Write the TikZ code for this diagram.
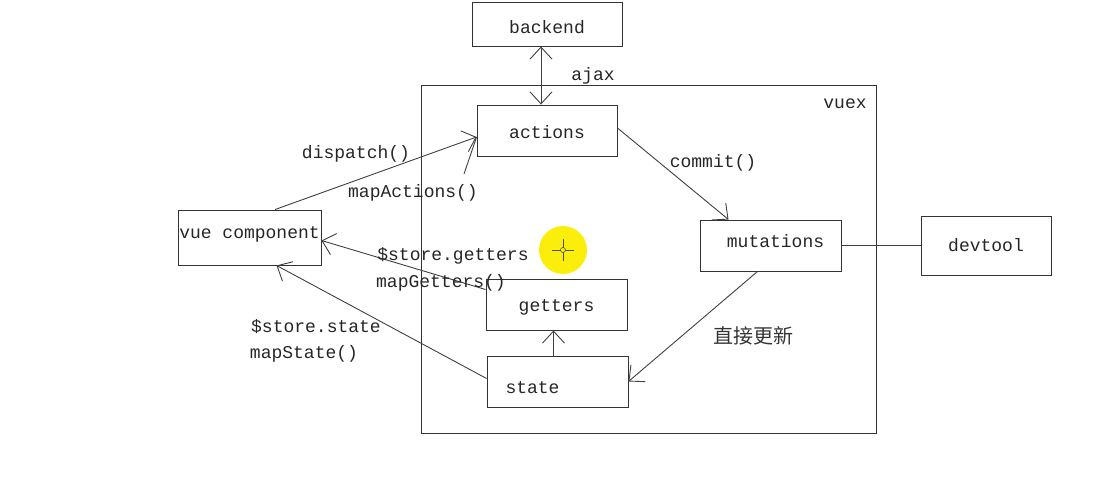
\documentclass[tikz,border=0pt]{standalone}
\usepackage{fontspec}
\setmonofont{Liberation Mono}
\newfontfamily\cjk{Noto Sans CJK SC}
\usetikzlibrary{arrows.meta}
\definecolor{cursoryellow}{RGB}{250,238,10}
\newcommand{\nudge}[2]{\raisebox{#1}[\height][\depth]{#2}}

\begin{document}
\begin{tikzpicture}[x=1pt, y=-1pt,
        box/.style={draw=black!80, line width=0.9pt, inner sep=0pt, text=black!85,
            font=\ttfamily\fontsize{18}{18}\selectfont},
        lbl/.style={inner sep=0pt, text=black!85, font=\ttfamily\fontsize{18}{18}\selectfont},
        link/.style={draw=black!75, line width=0.9pt},
        >={Straight Barb[length=12pt, width=22pt]}]
    \useasboundingbox (0,0) rectangle (1102,492);
    % the store frame
    \node[draw=black!80, line width=0.9pt, minimum width=455pt, minimum height=348pt, inner sep=0pt] (vuex) at (648.5,259) {};
    \node[lbl] (vuexlbl) at (845,104) {vuex};
    % boxes
    \node[box, minimum width=150pt, minimum height=44pt] (backend) at (547,24) {\nudge{-3pt}{backend}};
    \node[box, minimum width=140pt, minimum height=51pt] (actions) at (547,130.5) {\nudge{-2pt}{actions}};
    \node[box, minimum width=141pt, minimum height=51pt] (mutations) at (770.5,245.5) {\kern10pt\nudge{4pt}{mutations}};
    \node[box, minimum width=130pt, minimum height=59pt] (devtool) at (986,245.5) {devtool};
    \node[box, minimum width=143pt, minimum height=55pt] (vuecomp) at (249.5,237.5) {\nudge{3pt}{vue component}};
    \node[box, minimum width=141pt, minimum height=51pt] (getters) at (556.5,304.5) {\nudge{-3pt}{getters}};
    \node[box, minimum width=141pt, minimum height=51pt] (state) at (557.5,381.5) {\nudge{-6pt}{state}\kern50pt};
    % mouse pointer
    \fill[cursoryellow] (563,250) circle (24);
    \draw[black!70, line width=0.6pt] (552,250) -- (574,250) (563,239) -- (563,261);
    \draw[black!70, fill=cursoryellow, line width=0.6pt] (563,250) circle (2.5);
    % connectors
    \draw[link, <->] ([xshift=-6pt]backend.south) -- ([xshift=-6pt]backend.south |- actions.north);
    \draw[link, ->] ([xshift=25.5pt]vuecomp.north) -- ([yshift=-6.5pt]actions.west);
    \coordinate (mapact) at (464,174);
    \draw[link] (mapact) -- ([yshift=-6.5pt]actions.west);
    \draw[link, ->] ([yshift=2.5pt]actions.east) -- ([xshift=-42pt]mutations.north);
    \draw[link] (mutations.east) -- (devtool.west);
    \draw[link, ->] ([xshift=-13pt]mutations.south) -- (state.east);
    \draw[link, ->] ([xshift=-4pt]state.north) -- ([xshift=-4pt]state.north |- getters.south);
    \draw[link, ->] ([yshift=15pt]getters.west) -- ([yshift=-3pt]vuecomp.east);
    \draw[link, ->] ([yshift=3pt]state.west) -- ([xshift=27pt]vuecomp.south);
    % labels
    \node[lbl] (ajax) at (593,76) {ajax};
    \node[lbl] (dispatch) at (356,154) {dispatch()};
    \node[lbl] (mapactions) at (413,193) {mapActions()};
    \node[lbl] (commit) at (713,163) {commit()};
    \node[lbl] (storegetters) at (453,256) {\$store.getters};
    \node[lbl] (mapgetters) at (441,283) {mapGetters()};
    \node[lbl] (storestate) at (316,327) {\$store.state};
    \node[lbl] (mapstate) at (304,354) {mapState()};
    \node[inner sep=0pt, text=black!80, font=\cjk\fontsize{20}{20}\selectfont] (update) at (753,336) {直接更新};
\end{tikzpicture}
\end{document}
